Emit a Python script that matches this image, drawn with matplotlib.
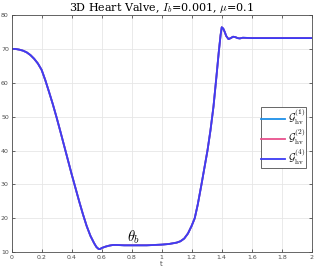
import numpy as np
import matplotlib
matplotlib.use("Agg")
import matplotlib.pyplot as plt

plt.rcParams['mathtext.fontset'] = 'cm'

# data (all three series overlap)
t = [0, 0.025, 0.05, 0.075, 0.1, 0.125, 0.15, 0.175, 0.2, 0.225, 0.25, 0.275,
     0.3, 0.325, 0.35, 0.375, 0.4, 0.425, 0.45, 0.475, 0.5, 0.525, 0.55, 0.565,
     0.58, 0.59, 0.6, 0.625, 0.65, 0.675, 0.7, 0.75, 0.8, 0.9, 1.0, 1.05, 1.1,
     1.125, 1.15, 1.175, 1.2, 1.22, 1.24, 1.265, 1.285, 1.305, 1.325, 1.345,
     1.365, 1.38, 1.392, 1.4, 1.41, 1.42, 1.43, 1.445, 1.46, 1.475, 1.49,
     1.505, 1.52, 1.54, 1.6, 2.0]
theta = [70, 70, 69.8, 69.5, 69.0, 68.2, 67.1, 65.7, 63.8, 60.7, 57.2, 53.6,
         49.7, 45.6, 41.4, 37.2, 33, 29, 25, 21.2, 17.7, 14.8, 12.6, 11.5,
         10.9, 10.9, 11.2, 11.6, 11.9, 12.1, 12.1, 12.0, 12.0, 12.0, 12.2, 12.4, 12.8,
         13.2, 14.0, 15.5, 17.8, 20, 24, 30, 35, 40, 46, 53,
         62, 69, 74, 76.4, 76, 75, 73.8, 72.9, 73.2, 73.6, 73.5,
         73.2, 73.1, 73.3, 73.2, 73.2]
labels = [r'$\mathcal{G}_{\rm hv}^{(1)}$', r'$\mathcal{G}_{\rm hv}^{(2)}$',
          r'$\mathcal{G}_{\rm hv}^{(4)}$']
colors = ['#1e90e8', '#e8508c', '#3c3cf5']
xticks = [0, 0.2, 0.4, 0.6, 0.8, 1, 1.2, 1.4, 1.6, 1.8, 2]
yticks = [10, 20, 30, 40, 50, 60, 70, 80]

fig = plt.figure(figsize=(3.14, 2.74), dpi=100)
ax = fig.add_axes([0.037, 0.080, 0.956, 0.865])

for lab, c in zip(labels, colors):
    ax.plot(t, theta, color=c, lw=1.3, label=lab)

ax.set_xlim(0, 2)
ax.set_ylim(10, 80)
ax.set_xticks(xticks)
ax.set_xticklabels(['0', '0.2', '0.4', '0.6', '0.8', '1', '1.2', '1.4', '1.6', '1.8', '2'])
ax.set_yticks(yticks)
ax.grid(True, color='#e6e6e6', lw=0.6)
ax.set_axisbelow(True)
ax.tick_params(direction='in', length=2.5, width=0.6, labelsize=4.5,
               colors='#4d4d4d', top=True, right=True, pad=2)
for s in ax.spines.values():
    s.set_color('#4d4d4d')
    s.set_linewidth(0.6)

ax.set_xlabel('t', fontsize=5, color='#4d4d4d', labelpad=1)
ax.set_title(r'3D Heart Valve, $I_b$=0.001, $\mu$=0.1', fontsize=8,
             family='DejaVu Serif', pad=3)
ax.text(0.81, 14.4, r'$\theta_b$', fontsize=10.5, ha='center', va='center')

leg = ax.legend(loc='center right', bbox_to_anchor=(0.981, 0.485), fontsize=7.5,
                fancybox=False, framealpha=1, edgecolor='#4d4d4d',
                handlelength=2.3, handletextpad=0.3, borderpad=0.05,
                labelspacing=0.0, borderaxespad=0)
leg.get_frame().set_linewidth(0.6)

fig.savefig('out.png', dpi=100)
